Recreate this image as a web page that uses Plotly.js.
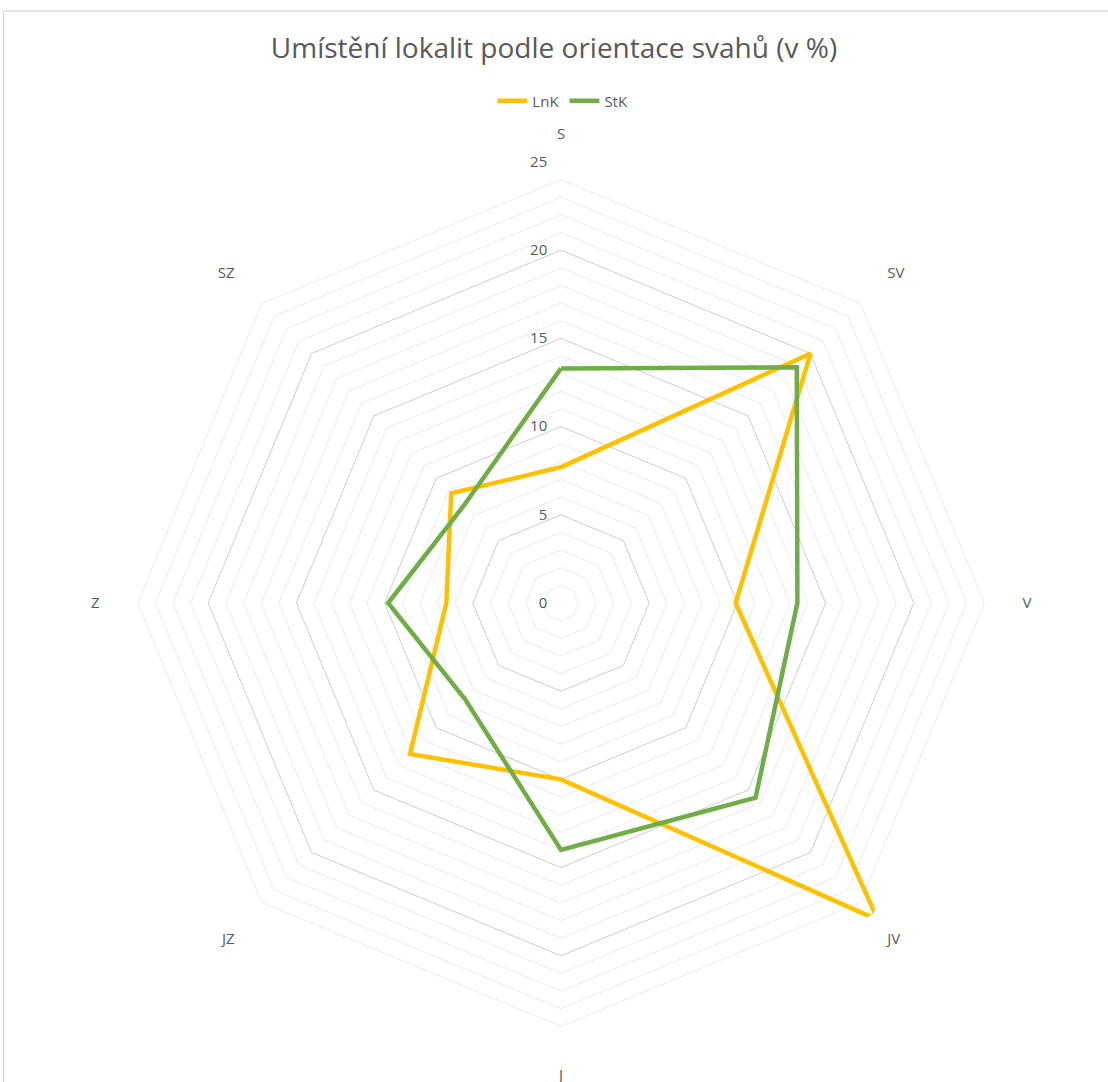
<!DOCTYPE html>
<html>
<head>
<meta charset="utf-8">
<script src="https://cdn.plot.ly/plotly-3.0.1.min.js"></script>
<style>html,body{margin:0;padding:0;background:#fff;}#chart{width:1108px;height:1082px;}</style>
</head>
<body>
<div id="chart"></div>
<script>
const categories = ['S', 'SV', 'V', 'JV', 'J', 'JZ', 'Z', 'SZ'];
const lnk = [7.7, 20.0, 9.9, 25.4, 10.0, 12.1, 6.5, 8.8];
const stk = [13.3, 18.9, 13.4, 15.6, 14.0, 7.7, 9.8, 7.8];
const minorTicks = [0,1,2,3,4,5,6,7,8,9,10,11,12,13,14,15,16,17,18,19,20,21,22,23,24,25];
const majorTicks = [0, 5, 10, 15, 20, 25];
const majorLabels = ['0', '5', '10', '15', '20', '25'];

const close = a => a.concat([a[0]]);
const txtColor = '#595959';
const fontFam = 'Open Sans, Liberation Sans, sans-serif';

const traces = [
  {type:'scatterpolar', subplot:'polar', r: categories.map(()=>0), theta: categories,
   mode:'lines', line:{color:'rgba(0,0,0,0)'}, showlegend:false, hoverinfo:'skip'},
  {type:'scatterpolar', subplot:'polar2', name:'LnK', r: close(lnk), theta: close(categories),
   mode:'lines', line:{color:'#FFC000', width:4.5}, cliponaxis:false},
  {type:'scatterpolar', subplot:'polar2', name:'StK', r: close(stk), theta: close(categories),
   mode:'lines', line:{color:'#70AD47', width:4.5}, cliponaxis:false}
];

const dom = {x:[120/1108, 1002/1108], y:[1 - 1044/1082, 1 - 162/1082]};

const layout = {
  width:1108, height:1082,
  margin:{l:0, r:0, t:0, b:0},
  paper_bgcolor:'#ffffff',
  font:{family:fontFam, color:txtColor},
  title:{text:'Umístění lokalit podle orientace svahů (v %)', font:{size:28, color:txtColor, family:fontFam},
         x:0.5, xanchor:'center', y:1 - 48/1082, yanchor:'middle'},
  showlegend:true,
  legend:{orientation:'h', x:0.508, xanchor:'center', y:1 - 101/1082, yanchor:'middle',
          font:{size:15, color:txtColor}, bgcolor:'rgba(0,0,0,0)'},
  polar:{
    domain:dom, gridshape:'linear', bgcolor:'#ffffff',
    radialaxis:{range:[0,25], tickmode:'array', tickvals:minorTicks, showticklabels:false,
                gridcolor:'#ebebeb', gridwidth:1, showline:false, ticks:'', angle:90},
    angularaxis:{direction:'clockwise', rotation:90, showticklabels:false, showgrid:false,
                 showline:false, ticks:''}
  },
  polar2:{
    domain:dom, gridshape:'linear', bgcolor:'rgba(0,0,0,0)',
    radialaxis:{range:[0,25], tickmode:'array', tickvals:majorTicks, ticktext:majorLabels,
                gridcolor:'#d4d4d4', gridwidth:1, showline:false, ticks:'outside', ticklen:8,
                tickcolor:'rgba(0,0,0,0)', angle:90, tickangle:90,
                side:'counterclockwise', tickfont:{size:15, color:txtColor}},
    angularaxis:{direction:'clockwise', rotation:90, showgrid:false, showline:false,
                 ticks:'outside', ticklen:17, tickcolor:'rgba(0,0,0,0)',
                 tickfont:{size:15, color:txtColor}}
  },
  shapes:[
    {type:'line', xref:'paper', yref:'paper', x0:3.5/1108, x1:3.5/1108, y0:0, y1:1 - 11/1082,
     line:{color:'#d0d0d0', width:1.2}},
    {type:'line', xref:'paper', yref:'paper', x0:3.5/1108, x1:1, y0:1 - 11/1082, y1:1 - 11/1082,
     line:{color:'#d0d0d0', width:1.2}}
  ]
};

Plotly.newPlot('chart', traces, layout, {displayModeBar:false, staticPlot:true});
</script>
</body>
</html>
